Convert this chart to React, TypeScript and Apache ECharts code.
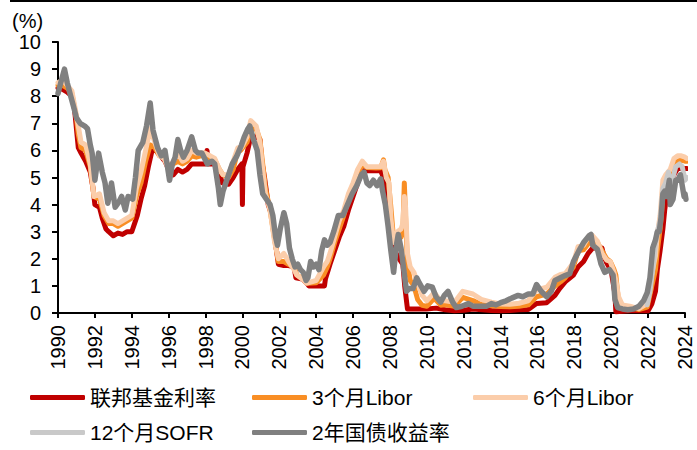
import React, { useEffect, useRef } from "react";
import * as echarts from "echarts";

const seriesNames = ["联邦基金利率", "3个月Libor", "6个月Libor", "12个月SOFR", "2年国债收益率"];
const seriesColors = ["#C00000", "#F98E24", "#FBCDAA", "#C9C9C9", "#808080"];
const yTicks = [0, 1, 2, 3, 4, 5, 6, 7, 8, 9, 10];

const fedFunds: number[][] = [
  [1990.0, 8.3], [1990.25, 8.25], [1990.5, 8.15], [1990.75, 8.0], [1990.9, 7.5], [1991.0, 6.8], [1991.1, 6.1],
  [1991.25, 5.9], [1991.5, 5.6], [1991.75, 5.2], [1991.9, 4.6], [1992.0, 4.0], [1992.25, 3.9], [1992.4, 3.5],
  [1992.6, 3.1], [1992.75, 3.0], [1993.0, 2.85], [1993.25, 2.95], [1993.5, 2.9], [1993.75, 3.0], [1994.0, 3.0],
  [1994.15, 3.3], [1994.3, 3.6], [1994.5, 4.2], [1994.7, 4.7], [1994.9, 5.4], [1995.1, 6.0], [1995.3, 6.0],
  [1995.55, 5.8], [1995.8, 5.6], [1996.0, 5.3], [1996.25, 5.1], [1996.5, 5.3], [1996.75, 5.2], [1997.0, 5.3],
  [1997.25, 5.5], [1997.5, 5.5], [1997.75, 5.5], [1998.0, 5.5], [1998.08, 6.0], [1998.15, 5.5], [1998.5, 5.5],
  [1998.75, 5.2], [1998.9, 4.8], [1999.25, 4.75], [1999.5, 5.0], [1999.75, 5.3], [1999.97, 5.5], [2000.0, 4.0],
  [2000.03, 5.4], [2000.25, 5.9], [2000.45, 6.5], [2000.75, 6.5], [2000.95, 6.4], [2001.05, 5.6], [2001.2, 5.0],
  [2001.4, 4.0], [2001.6, 3.6], [2001.75, 2.8], [2001.95, 1.8], [2002.25, 1.75], [2002.5, 1.75], [2002.8, 1.7],
  [2002.9, 1.3], [2003.25, 1.25], [2003.5, 1.1], [2003.6, 1.0], [2004.0, 1.0], [2004.45, 1.0], [2004.5, 1.25],
  [2004.75, 1.8], [2005.0, 2.3], [2005.25, 2.8], [2005.5, 3.2], [2005.75, 3.8], [2006.0, 4.3], [2006.25, 4.8],
  [2006.5, 5.25], [2006.75, 5.25], [2007.0, 5.25], [2007.5, 5.25], [2007.65, 5.0], [2007.75, 4.8], [2007.9, 4.3],
  [2008.0, 3.5], [2008.1, 3.0], [2008.25, 2.3], [2008.5, 2.0], [2008.7, 1.8], [2008.8, 1.0], [2008.95, 0.15],
  [2009.5, 0.15], [2010.0, 0.15], [2010.5, 0.18], [2011.0, 0.12], [2011.5, 0.08], [2012.0, 0.1], [2012.5, 0.15],
  [2013.0, 0.12], [2013.5, 0.09], [2014.0, 0.08], [2014.5, 0.09], [2015.0, 0.12], [2015.5, 0.13], [2015.95, 0.35],
  [2016.5, 0.38], [2016.95, 0.65], [2017.2, 0.9], [2017.5, 1.15], [2017.95, 1.4], [2018.2, 1.7], [2018.5, 1.9],
  [2018.75, 2.2], [2019.0, 2.4], [2019.5, 2.4], [2019.6, 2.1], [2019.75, 1.85], [2020.0, 1.55], [2020.2, 0.7],
  [2020.25, 0.05], [2021.0, 0.08], [2021.5, 0.08], [2022.0, 0.08], [2022.2, 0.33], [2022.4, 0.8], [2022.5, 1.6],
  [2022.65, 2.3], [2022.8, 3.1], [2022.9, 3.8], [2023.0, 4.3], [2023.1, 4.6], [2023.25, 4.8], [2023.4, 5.1],
  [2023.6, 5.33], [2024.0, 5.33], [2024.1, 5.33],
];

const libor3m: number[][] = [
  [1990.0, 8.4], [1990.25, 8.4], [1990.5, 8.3], [1990.75, 8.1], [1991.0, 7.2], [1991.1, 6.6], [1991.25, 6.1],
  [1991.5, 6.0], [1991.75, 5.4], [1991.95, 4.3], [1992.25, 4.2], [1992.5, 3.6], [1992.75, 3.3], [1993.0, 3.3],
  [1993.25, 3.2], [1993.5, 3.3], [1993.75, 3.4], [1994.0, 3.5], [1994.25, 4.3], [1994.5, 4.8], [1994.75, 5.6],
  [1995.0, 6.2], [1995.25, 6.1], [1995.5, 5.8], [1995.75, 5.8], [1996.0, 5.4], [1996.25, 5.5], [1996.5, 5.6],
  [1996.75, 5.5], [1997.0, 5.6], [1997.25, 5.8], [1997.5, 5.75], [1997.75, 5.8], [1997.95, 5.9], [1998.25, 5.7],
  [1998.5, 5.65], [1998.75, 5.3], [1998.95, 5.1], [1999.25, 5.0], [1999.5, 5.3], [1999.75, 6.0], [1999.9, 6.0],
  [2000.25, 6.3], [2000.45, 6.8], [2000.75, 6.8], [2000.95, 6.4], [2001.1, 5.5], [2001.25, 4.6], [2001.5, 3.8],
  [2001.75, 2.7], [2001.95, 1.9], [2002.25, 1.9], [2002.5, 1.8], [2002.8, 1.7], [2002.95, 1.4], [2003.25, 1.28],
  [2003.5, 1.1], [2004.0, 1.12], [2004.4, 1.4], [2004.6, 1.7], [2004.75, 2.0], [2005.0, 2.6], [2005.25, 3.1],
  [2005.5, 3.6], [2005.75, 4.2], [2006.0, 4.6], [2006.25, 5.1], [2006.5, 5.5], [2006.75, 5.37], [2007.0, 5.36],
  [2007.25, 5.35], [2007.5, 5.36], [2007.65, 5.65], [2007.72, 5.3], [2007.9, 5.0], [2008.05, 3.9], [2008.2, 2.7],
  [2008.4, 2.7], [2008.6, 2.8], [2008.7, 3.0], [2008.78, 4.8], [2008.85, 3.5], [2008.95, 1.8], [2009.1, 1.2],
  [2009.3, 1.0], [2009.5, 0.5], [2009.75, 0.28], [2010.0, 0.25], [2010.4, 0.54], [2010.75, 0.29], [2011.0, 0.3],
  [2011.5, 0.25], [2011.95, 0.58], [2012.5, 0.46], [2012.95, 0.31], [2013.5, 0.27], [2014.0, 0.24], [2014.5, 0.23],
  [2015.0, 0.25], [2015.5, 0.3], [2015.95, 0.6], [2016.5, 0.7], [2016.95, 1.0], [2017.25, 1.15], [2017.5, 1.3],
  [2017.95, 1.7], [2018.2, 2.3], [2018.5, 2.33], [2018.8, 2.6], [2018.95, 2.8], [2019.25, 2.6], [2019.5, 2.3],
  [2019.75, 2.0], [2019.95, 1.9], [2020.15, 1.6], [2020.25, 1.4], [2020.4, 0.4], [2020.6, 0.25], [2021.0, 0.2],
  [2021.5, 0.13], [2021.95, 0.22], [2022.2, 1.0], [2022.4, 1.6], [2022.5, 2.3], [2022.65, 3.1], [2022.8, 4.3],
  [2022.95, 4.75], [2023.2, 5.0], [2023.4, 5.5], [2023.6, 5.6], [2023.8, 5.65], [2024.0, 5.6], [2024.1, 5.6],
];

const libor6m: number[][] = [
  [1990.0, 8.5], [1990.25, 8.6], [1990.5, 8.4], [1990.75, 8.2], [1991.0, 7.3], [1991.25, 6.3], [1991.5, 6.2],
  [1991.75, 5.5], [1991.95, 4.3], [1992.25, 4.4], [1992.5, 3.7], [1992.75, 3.4], [1993.0, 3.4], [1993.25, 3.3],
  [1993.5, 3.4], [1993.75, 3.5], [1994.0, 3.6], [1994.25, 4.6], [1994.5, 5.2], [1994.75, 6.0], [1995.0, 6.8],
  [1995.25, 6.3], [1995.5, 5.8], [1995.75, 5.7], [1996.0, 5.3], [1996.25, 5.6], [1996.5, 5.9], [1996.75, 5.6],
  [1997.0, 5.7], [1997.25, 6.0], [1997.5, 5.9], [1997.75, 5.9], [1997.95, 5.9], [1998.25, 5.8], [1998.5, 5.7],
  [1998.75, 5.3], [1998.95, 5.1], [1999.25, 5.1], [1999.5, 5.6], [1999.75, 6.1], [1999.95, 6.1], [2000.25, 6.5],
  [2000.45, 7.1], [2000.75, 6.9], [2000.95, 6.3], [2001.1, 5.3], [2001.25, 4.4], [2001.5, 3.8], [2001.75, 2.6],
  [2001.95, 2.0], [2002.25, 2.2], [2002.5, 1.9], [2002.8, 1.6], [2002.95, 1.4], [2003.25, 1.25], [2003.5, 1.1],
  [2004.0, 1.2], [2004.4, 1.7], [2004.6, 1.9], [2004.75, 2.2], [2005.0, 2.8], [2005.25, 3.4], [2005.5, 3.8],
  [2005.75, 4.4], [2006.0, 4.8], [2006.25, 5.3], [2006.5, 5.6], [2006.75, 5.4], [2007.0, 5.4], [2007.25, 5.4],
  [2007.5, 5.4], [2007.65, 5.6], [2007.8, 5.0], [2007.95, 4.8], [2008.05, 3.5], [2008.2, 2.6], [2008.4, 3.0],
  [2008.6, 3.1], [2008.7, 3.3], [2008.78, 4.3], [2008.85, 3.9], [2008.95, 2.2], [2009.1, 1.7], [2009.3, 1.5],
  [2009.5, 1.1], [2009.75, 0.65], [2010.0, 0.45], [2010.4, 0.75], [2010.75, 0.45], [2011.0, 0.45], [2011.5, 0.4],
  [2011.95, 0.8], [2012.5, 0.7], [2012.95, 0.5], [2013.5, 0.4], [2014.0, 0.33], [2014.5, 0.32], [2015.0, 0.36],
  [2015.5, 0.45], [2015.95, 0.85], [2016.5, 0.95], [2016.95, 1.32], [2017.25, 1.42], [2017.5, 1.45], [2017.95, 1.85],
  [2018.2, 2.45], [2018.5, 2.5], [2018.8, 2.85], [2018.95, 2.88], [2019.25, 2.65], [2019.5, 2.2], [2019.75, 1.95],
  [2019.95, 1.9], [2020.15, 1.5], [2020.25, 1.2], [2020.4, 0.6], [2020.6, 0.3], [2021.0, 0.25], [2021.5, 0.16],
  [2021.95, 0.35], [2022.2, 1.45], [2022.4, 2.1], [2022.5, 2.9], [2022.65, 3.6], [2022.8, 4.9], [2022.95, 5.1],
  [2023.2, 5.3], [2023.4, 5.7], [2023.6, 5.8], [2023.8, 5.8], [2024.0, 5.75], [2024.1, 5.7],
];

const sofr12m: number[][] = [
  [2021.95, 0.3], [2022.1, 0.8], [2022.25, 1.6], [2022.4, 2.6], [2022.5, 3.0], [2022.65, 3.4], [2022.8, 4.6],
  [2022.95, 4.8], [2023.1, 5.2], [2023.2, 4.6], [2023.35, 5.0], [2023.5, 5.4], [2023.7, 5.5], [2023.85, 5.4],
  [2024.0, 4.9], [2024.1, 5.0],
];

const treasury2y: number[][] = [
  [1990.0, 8.1], [1990.15, 8.5], [1990.35, 9.0], [1990.5, 8.5], [1990.65, 8.1], [1990.85, 7.6], [1991.0, 7.2],
  [1991.2, 7.0], [1991.45, 6.9], [1991.6, 6.8], [1991.75, 6.2], [1991.85, 5.9], [1992.0, 4.9], [1992.2, 5.9],
  [1992.4, 5.2], [1992.55, 4.8], [1992.7, 4.05], [1992.9, 4.8], [1993.1, 3.9], [1993.3, 4.1], [1993.45, 4.3],
  [1993.65, 3.8], [1993.8, 4.3], [1994.05, 4.2], [1994.2, 5.0], [1994.35, 6.0], [1994.6, 6.3], [1994.8, 6.9],
  [1995.0, 7.75], [1995.15, 6.75], [1995.4, 6.1], [1995.6, 5.8], [1995.8, 6.0], [1996.05, 4.9], [1996.2, 5.5],
  [1996.35, 5.75], [1996.5, 6.4], [1996.65, 6.0], [1996.8, 5.75], [1997.0, 6.0], [1997.25, 6.5], [1997.45, 6.0],
  [1997.6, 5.9], [1997.8, 5.9], [1998.1, 5.5], [1998.35, 5.6], [1998.5, 5.5], [1998.7, 4.6], [1998.8, 4.0],
  [1998.95, 4.5], [1999.2, 5.0], [1999.45, 5.5], [1999.7, 5.8], [1999.95, 6.2], [2000.1, 6.5], [2000.3, 6.8],
  [2000.4, 6.9], [2000.6, 6.4], [2000.8, 6.0], [2000.95, 5.1], [2001.1, 4.4], [2001.3, 4.2], [2001.5, 4.0],
  [2001.65, 3.6], [2001.8, 2.8], [2001.9, 2.5], [2002.05, 3.1], [2002.25, 3.7], [2002.4, 3.3], [2002.55, 2.4],
  [2002.7, 2.0], [2002.85, 1.7], [2003.0, 1.8], [2003.15, 1.6], [2003.3, 1.5], [2003.45, 1.2], [2003.55, 1.3],
  [2003.7, 1.9], [2003.85, 1.7], [2004.0, 1.8], [2004.15, 1.6], [2004.3, 2.3], [2004.45, 2.7], [2004.6, 2.5],
  [2004.75, 2.6], [2004.95, 3.0], [2005.2, 3.6], [2005.45, 3.6], [2005.7, 4.0], [2005.95, 4.4], [2006.2, 4.7],
  [2006.45, 5.1], [2006.6, 5.2], [2006.75, 4.8], [2006.9, 4.7], [2007.1, 4.9], [2007.3, 4.7], [2007.5, 4.95],
  [2007.6, 4.5], [2007.75, 4.0], [2007.9, 3.2], [2008.05, 2.3], [2008.2, 1.5], [2008.35, 2.5], [2008.45, 2.9],
  [2008.6, 2.4], [2008.75, 1.6], [2008.9, 0.8], [2009.05, 0.9], [2009.25, 0.9], [2009.45, 1.3], [2009.6, 1.1],
  [2009.85, 0.8], [2010.05, 1.0], [2010.3, 0.95], [2010.5, 0.6], [2010.75, 0.4], [2010.95, 0.65], [2011.15, 0.8],
  [2011.4, 0.4], [2011.6, 0.2], [2011.9, 0.25], [2012.25, 0.35], [2012.5, 0.25], [2012.9, 0.25], [2013.25, 0.25],
  [2013.5, 0.35], [2013.75, 0.3], [2014.0, 0.38], [2014.3, 0.45], [2014.6, 0.55], [2014.95, 0.65], [2015.2, 0.6],
  [2015.5, 0.7], [2015.75, 0.7], [2015.95, 1.05], [2016.2, 0.8], [2016.5, 0.6], [2016.75, 0.8], [2016.95, 1.2],
  [2017.25, 1.3], [2017.5, 1.38], [2017.75, 1.45], [2017.95, 1.9], [2018.25, 2.3], [2018.5, 2.6], [2018.8, 2.85],
  [2018.9, 2.9], [2019.0, 2.5], [2019.25, 2.35], [2019.45, 1.8], [2019.65, 1.5], [2019.9, 1.6], [2020.1, 1.4],
  [2020.2, 0.5], [2020.35, 0.2], [2020.6, 0.15], [2020.9, 0.12], [2021.2, 0.15], [2021.5, 0.25], [2021.75, 0.45],
  [2021.95, 0.75], [2022.1, 1.3], [2022.25, 2.4], [2022.4, 2.7], [2022.5, 3.0], [2022.6, 3.0], [2022.7, 3.5],
  [2022.8, 4.4], [2022.9, 4.5], [2023.0, 4.3], [2023.15, 4.9], [2023.2, 4.0], [2023.35, 4.2], [2023.5, 4.9],
  [2023.6, 4.9], [2023.75, 5.1], [2023.85, 4.7], [2023.95, 4.3], [2024.0, 4.4], [2024.05, 4.2],
];

const seriesData = [fedFunds, libor3m, libor6m, sofr12m, treasury2y];

const FONT = "'Liberation Sans', Arial, 'Noto Sans CJK SC', sans-serif";

export default function App() {
  const ref = useRef<HTMLDivElement>(null);
  useEffect(() => {
    if (!ref.current) return;
    const chart = echarts.init(ref.current, undefined, { renderer: "svg" });
    const legendPos = [
      [25, 382], [247, 382], [468, 382], [25, 417], [247, 417],
    ];
    chart.setOption({
      animation: false,
      backgroundColor: "#ffffff",
      textStyle: { fontFamily: FONT },
      grid: { left: 58, right: 12, top: 42, bottom: 137 },
      graphic: [
        { type: "rect", left: 10, top: 0, shape: { width: 687, height: 2 }, style: { fill: "#000" } },
        {
          type: "text", left: 12, top: 11,
          style: { text: "(%)", font: `20px ${FONT}`, fill: "#000" },
        },
      ],
      legend: seriesNames.map((n, i) => ({
        data: [n],
        left: legendPos[i][0],
        top: legendPos[i][1],
        itemWidth: 55,
        itemHeight: 5,
        icon: "roundRect",
        itemGap: 5,
        textStyle: { fontSize: 21, color: "#000", fontFamily: FONT },
        selectedMode: false,
      })),
      xAxis: {
        type: "value",
        min: 1990,
        max: 2024,
        interval: 2,
        axisLine: { lineStyle: { color: "#000", width: 2 } },
        axisTick: { show: true, length: 5, lineStyle: { color: "#000", width: 2 } },
        axisLabel: {
          rotate: 90, fontSize: 20, color: "#000", margin: 12,
          formatter: (v: number) => String(v),
        },
        splitLine: { show: false },
      },
      yAxis: {
        type: "value",
        min: yTicks[0],
        max: yTicks[yTicks.length - 1],
        interval: 1,
        axisLine: { show: true, lineStyle: { color: "#000", width: 2 } },
        axisTick: { show: true, length: 6, lineStyle: { color: "#000", width: 2 } },
        axisLabel: { fontSize: 20, color: "#000", margin: 17 },
        splitLine: { show: false },
      },
      series: seriesNames.map((n, i) => ({
        name: n,
        type: "line",
        data: seriesData[i],
        showSymbol: false,
        symbol: "none",
        color: seriesColors[i],
        lineStyle: { width: i === 4 ? 5.5 : 5, color: seriesColors[i], cap: "round", join: "round" },
        z: 2 + i,
      })),
    });
    return () => chart.dispose();
  }, []);
  return (
    <div
      ref={ref}
      style={{ position: "fixed", left: 0, top: 0, width: 697, height: 450, background: "#fff" }}
    />
  );
}
